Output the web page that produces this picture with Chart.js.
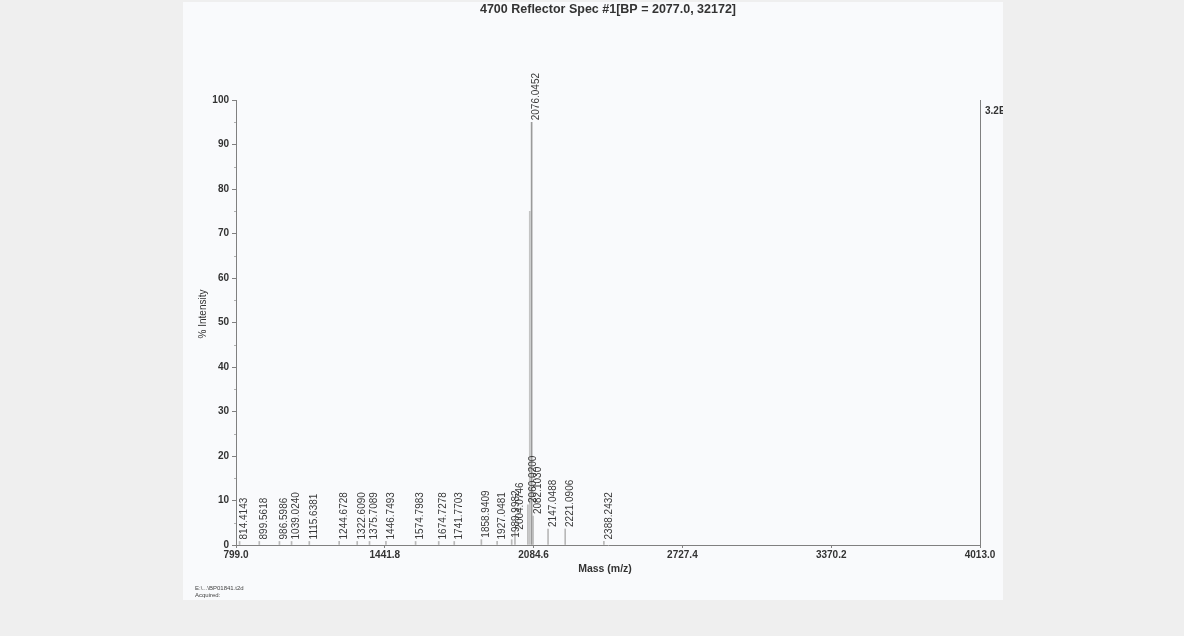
<!DOCTYPE html>
<html><head><meta charset="utf-8">
<script src="https://cdn.jsdelivr.net/npm/chart.js@4/dist/chart.umd.min.js"></script>
<style>
html,body{margin:0;padding:0;background:#efefef;width:1184px;height:636px;overflow:hidden}
#page{position:absolute;left:183px;top:2px;width:820px;height:598px;background:#f9fafc;overflow:hidden}
canvas{display:block}
</style></head><body><div id="page"><canvas id="c" width="820" height="598"></canvas></div>
<script>
// ---- data ----
const peakMasses = [814.4143, 899.5618, 986.5986, 1039.0240, 1115.6381, 1244.6728, 1322.6090, 1375.7089, 1446.7493, 1574.7983, 1674.7278, 1741.7703, 1858.9409, 1927.0481, 1989.9982, 2004.0746, 2060.0200, 2082.1030, 2147.0488, 2221.0906, 2388.2432];
const peakIntensities = [0.8, 0.8, 0.8, 0.8, 0.8, 0.8, 0.8, 0.8, 0.8, 0.8, 0.8, 0.8, 1.2, 0.8, 1.2, 3.0, 9.0, 6.5, 3.6, 3.6, 0.8];
const peakLabels = ["814.4143", "899.5618", "986.5986", "1039.0240", "1115.6381", "1244.6728", "1322.6090", "1375.7089", "1446.7493", "1574.7983", "1674.7278", "1741.7703", "1858.9409", "1927.0481", "1989.9982", "2004.0746", "2060.0200", "2082.1030", "2147.0488", "2221.0906", "2388.2432"];
const basePeakMasses = [2068.0, 2076.0452];
const basePeakIntensities = [75, 95];
const basePeakLabels = ["", "2076.0452"];
const xTickValues = [799.0, 1441.8, 2084.6, 2727.4, 3370.2, 4013.0];
const yTickValues = [0, 10, 20, 30, 40, 50, 60, 70, 80, 90, 100];
const titleText = "4700 Reflector Spec #1[BP = 2077.0, 32172]";
const xTitle = "Mass (m/z)";
const yTitle = "% Intensity";
const rightAxisLabel = "3.2E+4";
const footerLines = ["E:\\...\\BP01841.t2d", "Acquired:"];

const FONT = "'Liberation Sans', Arial, sans-serif";
const AXIS = '#808080';

const decor = {
  id: 'decor',
  afterDatasetsDraw(chart) {
    const ctx = chart.ctx, a = chart.chartArea;
    const xs = chart.scales.x, ys = chart.scales.y;
    ctx.save();
    // right axis line
    ctx.strokeStyle = AXIS; ctx.lineWidth = 1;
    ctx.beginPath(); ctx.moveTo(Math.round(a.right) + 0.5, a.top); ctx.lineTo(Math.round(a.right) + 0.5, a.bottom); ctx.stroke();
    // minor y ticks
    ctx.strokeStyle = '#b0b0b0';
    for (let v = 5; v < 100; v += 10) {
      const y = Math.round(ys.getPixelForValue(v)) + 0.5;
      ctx.beginPath(); ctx.moveTo(a.left - 2, y); ctx.lineTo(a.left, y); ctx.stroke();
    }
    // peak labels
    ctx.fillStyle = '#3a3a3a';
    ctx.font = '10px ' + FONT;
    ctx.textAlign = 'left'; ctx.textBaseline = 'middle';
    const drawLabels = (ms, hs, ls) => {
      ms.forEach((m, i) => {
        if (!ls[i]) return;
        const x = xs.getPixelForValue(m) + 5;
        const y = ys.getPixelForValue(hs[i]) - 2;
        ctx.save(); ctx.translate(x, y); ctx.rotate(-Math.PI / 2);
        ctx.fillText(ls[i], 0, 0); ctx.restore();
      });
    };
    drawLabels(peakMasses, peakIntensities, peakLabels);
    drawLabels(basePeakMasses, basePeakIntensities, basePeakLabels);
    // title
    ctx.fillStyle = '#333';
    ctx.font = 'bold 12.5px ' + FONT; ctx.textAlign = 'center'; ctx.textBaseline = 'middle';
    ctx.fillText(titleText, (a.left + a.right) / 2, 8);
    // axis titles
    ctx.font = 'bold 10.5px ' + FONT;
    ctx.fillText(xTitle, (a.left + a.right) / 2 - 3, a.bottom + 24);
    ctx.save(); ctx.translate(20, 312); ctx.rotate(-Math.PI / 2);
    ctx.font = '10px ' + FONT; ctx.fillText(yTitle, 0, 0); ctx.restore();
    // right axis label (clipped by page edge)
    ctx.textAlign = 'left'; ctx.font = 'bold 10px ' + FONT;
    ctx.fillText(rightAxisLabel, a.right + 5, ys.getPixelForValue(97.5));
    // footer
    ctx.font = '6px ' + FONT; ctx.fillStyle = '#444';
    ctx.fillText(footerLines[0], 12, 586);
    ctx.fillText(footerLines[1], 12, 593);
    ctx.restore();
  }
};

new Chart(document.getElementById('c'), {
  type: 'bar',
  data: {
    datasets: [
      { data: peakMasses.map((m, i) => ({ x: m, y: peakIntensities[i] })), backgroundColor: '#b8b8b8', barThickness: 1, grouped: false },
      { data: basePeakMasses.map((m, i) => ({ x: m, y: basePeakIntensities[i] })), backgroundColor: ['#c4c4c4', '#9a9a9a'], barThickness: 1, grouped: false }
    ]
  },
  options: {
    responsive: false, animation: false, devicePixelRatio: 1,
    layout: { padding: { top: 98, right: 23, left: 0, bottom: 0 } },
    plugins: { legend: { display: false }, tooltip: { enabled: false }, title: { display: false } },
    scales: {
      x: {
        type: 'linear', min: 799.0, max: 4013.0, offset: false,
        afterBuildTicks: s => { s.ticks = xTickValues.map(v => ({ value: v })); },
        afterFit: s => { s.height = 55; },
        ticks: { callback: v => Number(v).toFixed(1), maxRotation: 0, autoSkip: false, color: '#333', font: { family: FONT, size: 10, weight: 'bold' }, padding: 1 },
        grid: { display: true, offset: false, drawOnChartArea: false, drawTicks: true, tickLength: 3, color: AXIS },
        border: { display: true, color: AXIS, width: 1 }
      },
      y: {
        min: 0, max: 100,
        afterBuildTicks: s => { s.ticks = yTickValues.map(v => ({ value: v })); },
        afterFit: s => { s.width = 53; },
        ticks: { color: '#333', font: { family: FONT, size: 10, weight: 'bold' }, padding: 3 },
        grid: { display: true, offset: false, drawOnChartArea: false, drawTicks: true, tickLength: 4, color: AXIS },
        border: { display: true, color: AXIS, width: 1 }
      }
    }
  },
  plugins: [decor]
});
</script></body></html>
